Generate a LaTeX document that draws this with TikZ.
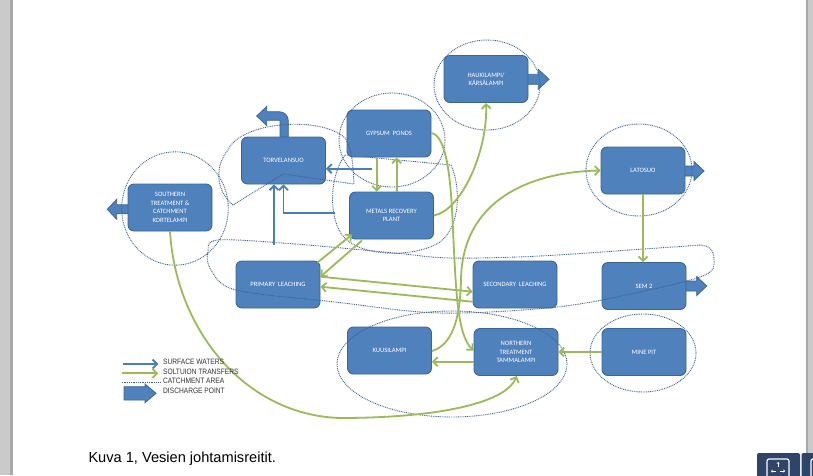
\documentclass[tikz,border=0pt]{standalone}
\usepackage{fontspec}
\setmainfont{Liberation Sans}
\newfontfamily\boxfont{Carlito}
\newfontfamily\legendfont[FakeStretch=0.85]{Liberation Sans}
\usetikzlibrary{arrows.meta,calc}
\definecolor{boxblue}{HTML}{4F81BD}
\definecolor{boxedge}{HTML}{3A6696}
\definecolor{surfc}{HTML}{4A7EBB}
\definecolor{solc}{HTML}{9BBB59}
\definecolor{catchc}{HTML}{3F5F95}
\definecolor{barc}{HTML}{CACACA}
\definecolor{baredge}{HTML}{A8A8A8}
\definecolor{uic}{HTML}{2F4468}
\tikzset{
  box/.style={draw=boxedge, fill=boxblue, line width=0.9pt, rounded corners=6pt,
    minimum width=84pt, minimum height=47pt, inner sep=0pt, text=white,
    font=\boxfont\fontsize{6.6}{8.5}\selectfont, align=center},
  discharge/.style={fill=boxblue, draw=boxedge, line width=0.8pt},
  catchline/.style={draw=catchc, line width=0.9pt, dash pattern=on 0.9pt off 0.9pt},
  surfline/.style={draw=surfc, line width=1.8pt, -{Straight Barb[length=4.5pt,width=9pt]}},
  solline/.style={draw=solc, line width=1.8pt, -{Straight Barb[length=4.5pt,width=9pt]}},
  legtext/.style={anchor=west, inner sep=0pt, text=black!80,
    font=\legendfont\fontsize{7.8}{9}\selectfont},
}
\begin{document}
\begin{tikzpicture}[x=1pt, y=-1pt]
\useasboundingbox (0,0) rectangle (813,475);
\fill[white] (0,0) rectangle (813,475);
% page side bars
\fill[barc] (0,0) rectangle (12.7,475);
\fill[baredge] (10,0) rectangle (12.7,475);
\fill[barc] (806,0) rectangle (813,475);
\fill[baredge] (806,0) rectangle (808,475);

% discharge points
\draw[discharge] (526,74.3) -- (538.3,74.3) -- (538.3,69.3) -- (549,79.3) -- (538.3,89.3) -- (538.3,84.3) -- (526,84.3) -- cycle;
\draw[discharge] (683,166) -- (694,166) -- (694,161.5) -- (704,171) -- (694,180.5) -- (694,176) -- (683,176) -- cycle;
\draw[discharge] (684,281) -- (696.7,281) -- (696.7,276.5) -- (706.7,286) -- (696.7,295.5) -- (696.7,291) -- (684,291) -- cycle;
\draw[discharge] (130,204.8) -- (116.7,204.8) -- (116.7,199.3) -- (107.3,209.3) -- (116.7,219.3) -- (116.7,213.8) -- (130,213.8) -- cycle;
\draw[discharge] (288.3,139) -- (288.3,121) .. controls (288.3,115.5) and (284.5,111.7) .. (279,111.7) -- (266.7,111.7) -- (266.7,106.5) -- (256.7,116) -- (266.7,125.5) -- (266.7,120.3) -- (280,120.3) -- (280,139) -- cycle;

% metals recovery catchment (partly hidden by the boxes)
\draw[catchline] (451,165) .. controls (460,185) and (462,225) .. (440,242)
  .. controls (415,258) and (360,258) .. (342,235)
  .. controls (328,215) and (330,175) .. (345,155) -- cycle;

% boxes
\node[box] (torv) at (283.5,160.5) {TORVELANSUO};
\node[box] (gyp) at (389,133.5) {GYPSUM\ \ PONDS};
\node[box] (metals) at (391.5,215.5) {METALS RECOVERY\\PLANT};
\node[box] (south) at (170,207.5) {SOUTHERN\\TREATMENT \&\\CATCHMENT\\KORTELAMPI};
\node[box] (hauki) at (486,79) {HAUKILAMPI/\\KÄRSÄLAMPI};
\node[box] (lato) at (643,170.5) {LATOSUO};
\node[box] (primary) at (278,284.5) {PRIMARY\ \ LEACHING};
\node[box] (secondary) at (515,284.5) {SECONDARY\ \ LEACHING};
\node[box] (sem) at (644,286) {SEM 2};
\node[box] (kuusi) at (389.5,350.5) {KUUSILAMPI};
\node[box] (north) at (516,352) {NORTHERN\\TREATMENT\\TAMMALAMPI};
\node[box] (mine) at (644,352) {MINE PIT};

% catchment areas
\draw[catchline] (175,208.5) ellipse [x radius=53.3, y radius=56.7];
\draw[catchline] (392,140) ellipse [x radius=53, y radius=47];
\draw[catchline] (487,85) ellipse [x radius=53, y radius=45];
\draw[catchline] (639,170) ellipse [x radius=53, y radius=46];
\draw[catchline] (643,353) ellipse [x radius=53, y radius=39];
\draw[catchline] (452,364) ellipse [x radius=115, y radius=53];
\draw[catchline] (233,205) .. controls (215,190) and (215,165) .. (228,150)
  .. controls (240,122) and (320,115) .. (345,138)
  .. controls (352,148) and (353,165) .. (354,184) -- (283,174) -- cycle;
\draw[catchline] plot[smooth cycle, tension=0.55] coordinates {
  (218,240) (295,244) (395,253) (450,258) (540,256) (673,247) (706,246)
  (714,259) (705,275) (640,292) (557,307) (440,313) (335,302) (236,290)
  (211,270) (208,252)};

% surface waters
\coordinate (gtstart) at (371.7,168.7);
\draw[surfline] (gtstart) -- (gtstart -| torv.east);
\coordinate (mtstart) at (335,212.7);
\draw[surfline] (mtstart) -| (torv.south);
\coordinate (ptstart) at (274,245);
\draw[surfline] (ptstart) -- (ptstart |- torv.south);

% solution transfers
\draw[solline] ($(gyp.south)+(-12.3,0)$) -- ($(metals.north)+(-14.8,0)$);
\draw[solline] ($(metals.north)+(5.2,0)$) -- ($(gyp.south)+(7.7,0)$);
\draw[solline] ($(primary.north east)+(-3,2)$) -- ($(metals.south west)+(3,-5)$);
\draw[solline] ($(metals.south west)+(13,1)$) -- ($(primary.east)+(0,-7.8)$);
\draw[solline] ($(primary.east)+(0,-7.8)$) -- ($(secondary.west)+(0,7.2)$);
\draw[solline] ($(secondary.west)+(0,17.2)$) -- ($(primary.east)+(0,2.2)$);
\draw[solline] (metals.east) .. controls (462,210) and (488,150) .. (hauki.south);
\draw[solline] ($(gyp.east)+(0,-0.5)$) .. controls (447,136) and (451,180) .. (453,230)
  .. controls (456,290) and (457,335) .. ($(north.west)+(0,-1.5)$);
\draw[solline] ($(kuusi.east)+(0,0.5)$) .. controls (452,345) and (460,320) .. (461,280)
  .. controls (462,200) and (530,172) .. (lato.west);
\draw[solline] (south.south) .. controls (176,330) and (245,415) .. (340,418)
  .. controls (430,418) and (505,405) .. ($(north.south)+(0.7,0)$);
\draw[solline] (lato.south) -- (lato.south |- sem.north);
\draw[solline] (mine.west) -- (north.east);
\draw[solline] ($(north.west)+(0,9.7)$) -- ($(kuusi.east)+(0,11.2)$);

% legend
\coordinate (l1a) at (122.7,364); \coordinate (l1b) at (158.3,364);
\draw[surfline] (l1a) -- (l1b);
\node[legtext] (t1) at (163,362) {SURFACE WATERS};
\coordinate (l2a) at (121.7,373.3); \coordinate (l2b) at (158.3,373.3);
\draw[solline] (l2a) -- (l2b);
\node[legtext] (t2) at (163,371.5) {SOLTUION TRANSFERS};
\coordinate (l3a) at (121.7,382.7); \coordinate (l3b) at (160,382.7);
\draw[catchline] (l3a) -- (l3b);
\node[legtext] (t3) at (163,381) {CATCHMENT AREA};
\draw[discharge] (124,386.7) -- (145,386.7) -- (145,384) -- (156,393.3) -- (145,402.7) -- (145,400) -- (124,400) -- cycle;
\node[legtext] (t4) at (163,390.7) {DISCHARGE POINT};

% caption
\node[anchor=base west, inner sep=0pt, font=\fontsize{14.6}{17}\selectfont] (cap) at (88.3,462.5) {Kuva 1, Vesien johtamisreitit.};

% viewer buttons
\fill[uic, rounded corners=2pt] (757,453) rectangle (800,480);
\fill[uic, rounded corners=2pt] (801.5,453) rectangle (820,480);
\draw[white, line width=1.2pt, rounded corners=2pt] (767,459) rectangle (789,478);
\draw[white, line width=0.6pt, -{Straight Barb[length=1.2pt,width=2.4pt]}] (778,467) -- (778,462);
\draw[white, line width=0.6pt, -{Straight Barb[length=1.2pt,width=2.4pt]}] (776,471) -- (771,471);
\draw[white, line width=0.6pt, -{Straight Barb[length=1.2pt,width=2.4pt]}] (780,471) -- (785,471);
\draw[white, line width=1.2pt, rounded corners=2pt] (811,459) rectangle (822,478);
\end{tikzpicture}
\end{document}
